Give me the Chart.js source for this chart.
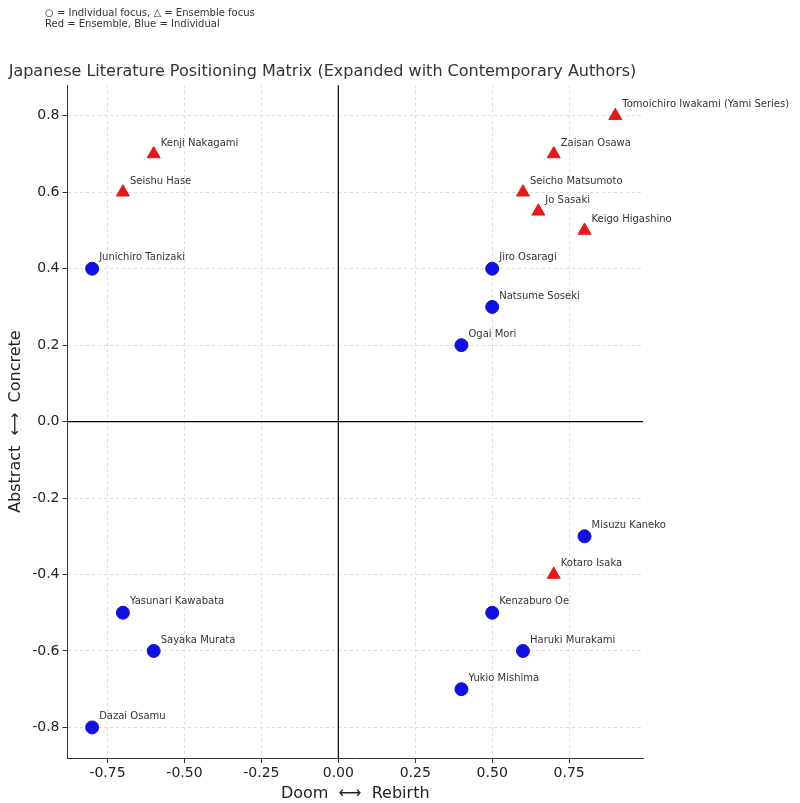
<!DOCTYPE html>
<html><head><meta charset="utf-8">
<script src="https://cdn.jsdelivr.net/npm/chart.js@4"></script>
<style>
body{margin:0;background:#fff;font-family:"DejaVu Sans",sans-serif;}
#note{position:absolute;left:45px;top:7px;font-size:10px;line-height:11px;color:#333;}
#wrap{position:absolute;left:0;top:0;width:800px;height:803px;}
</style></head><body>
<div id="wrap"><canvas id="c"></canvas></div>
<div id="note">○ = Individual focus, △ = Ensemble focus<br>Red = Ensemble, Blue = Individual</div>
<script>
var ensembleNames = ['Tomoichiro Iwakami (Yami Series)','Zaisan Osawa','Seicho Matsumoto','Jo Sasaki','Keigo Higashino','Kenji Nakagami','Seishu Hase','Kotaro Isaka'];
var ensembleX = [0.9,0.7,0.6,0.65,0.8,-0.6,-0.7,0.7];
var ensembleY = [0.8,0.7,0.6,0.55,0.5,0.7,0.6,-0.4];
var individualNames = ['Junichiro Tanizaki','Jiro Osaragi','Natsume Soseki','Ogai Mori','Misuzu Kaneko','Kenzaburo Oe','Haruki Murakami','Yukio Mishima','Yasunari Kawabata','Sayaka Murata','Dazai Osamu'];
var individualX = [-0.8,0.5,0.5,0.4,0.8,0.5,0.6,0.4,-0.7,-0.6,-0.8];
var individualY = [0.4,0.4,0.3,0.2,-0.3,-0.5,-0.6,-0.7,-0.5,-0.6,-0.8];

function pts(xs, ys, names){ return xs.map(function(x,i){ return {x:x, y:ys[i], name:names[i]}; }); }

// solid black zero lines, drawn under the points
var zeroPlugin = {
  id:'zero',
  beforeDatasetsDraw: function(chart){
    var ctx = chart.ctx, a = chart.chartArea;
    var x0 = chart.scales.x.getPixelForValue(0), y0 = chart.scales.y.getPixelForValue(0);
    ctx.save();
    ctx.strokeStyle = '#000'; ctx.lineWidth = 1.2;
    ctx.beginPath();
    ctx.moveTo(x0, a.top); ctx.lineTo(x0, a.bottom);
    ctx.moveTo(a.left, y0); ctx.lineTo(a.right, y0);
    ctx.stroke();
    ctx.restore();
  }
};

var labelPlugin = {
  id:'labels',
  afterDatasetsDraw: function(chart){
    var ctx = chart.ctx;
    ctx.save();
    ctx.font = '10px "DejaVu Sans"';
    ctx.fillStyle = '#333';
    ctx.textBaseline = 'bottom';
    chart.data.datasets.forEach(function(ds, di){
      chart.getDatasetMeta(di).data.forEach(function(el, i){
        ctx.fillText(ds.data[i].name, el.x + 7, el.y - 6);
      });
    });
    ctx.restore();
  }
};

function gridColor(c){ return c.tick && Math.abs(c.tick.value) < 1e-9 ? 'rgba(0,0,0,0)' : '#dddddd'; }
var tickFont = {family:'DejaVu Sans', size:14};
new Chart(document.getElementById('c'), {
  type:'scatter',
  data:{ datasets:[
    {label:'Ensemble', data:pts(ensembleX, ensembleY, ensembleNames), pointStyle:'triangle', pointRadius:7.5, backgroundColor:'#e31a1c', borderColor:'#e31a1c'},
    {label:'Individual', data:pts(individualX, individualY, individualNames), pointStyle:'circle', pointRadius:6.5, backgroundColor:'#1010e0', borderColor:'#1010e0'}
  ]},
  options:{
    responsive:true, maintainAspectRatio:false, animation:false,
    layout:{padding:{left:2, right:157, top:62, bottom:0}},
    plugins:{
      legend:{display:false}, tooltip:{enabled:false},
      title:{display:true, text:'Japanese Literature Positioning Matrix (Expanded with Contemporary Authors)', color:'#333', font:{family:'DejaVu Sans', size:16, weight:'normal'}, padding:{top:0,bottom:4}}
    },
    scales:{
      x:{min:-0.88, max:0.99,
        afterBuildTicks:function(a){ a.ticks=[-0.75,-0.5,-0.25,0,0.25,0.5,0.75].map(function(v){return {value:v};}); },
        ticks:{color:'#222', font:tickFont, padding:2, callback:function(v){return v.toFixed(2);}},
        grid:{color:gridColor, lineWidth:1, tickLength:5, tickColor:'#333'},
        border:{color:'#333', dash:[3,3]},
        title:{display:true, text:'Doom  ⟷  Rebirth', color:'#222', font:{family:'DejaVu Sans', size:16}, padding:{top:0,bottom:0}}
      },
      y:{min:-0.88, max:0.88,
        afterBuildTicks:function(a){ a.ticks=[-0.8,-0.6,-0.4,-0.2,0,0.2,0.4,0.6,0.8].map(function(v){return {value:v};}); },
        ticks:{color:'#222', font:tickFont, callback:function(v){return v.toFixed(1);}},
        grid:{color:gridColor, lineWidth:1, tickLength:5, tickColor:'#333'},
        border:{color:'#333', dash:[3,3]},
        title:{display:true, text:'Abstract  ⟷  Concrete', color:'#222', font:{family:'DejaVu Sans', size:16}}
      }
    }
  },
  plugins:[zeroPlugin, labelPlugin]
});
</script>
</body></html>
